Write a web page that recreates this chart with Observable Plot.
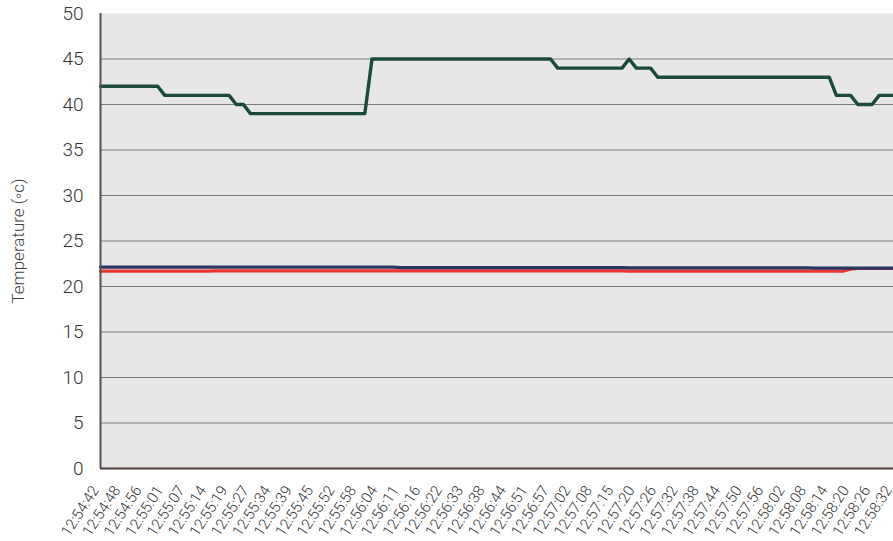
<!DOCTYPE html>
<html>
<head>
<meta charset="utf-8">
<script src="https://cdn.jsdelivr.net/npm/d3@7"></script>
<script src="https://cdn.jsdelivr.net/npm/@observablehq/plot@0.6"></script>
<style>
  html, body { margin: 0; padding: 0; background: #fff; overflow: hidden; }
</style>
</head>
<body>
<div id="chart"></div>
<script>
// Labelled sample times (every 3rd sample carries a label)
const tickLabels = [
  "12:54:42","12:54:48","12:54:56","12:55:01","12:55:07","12:55:14","12:55:19","12:55:27",
  "12:55:34","12:55:39","12:55:45","12:55:52","12:55:58","12:56:04","12:56:11","12:56:16",
  "12:56:22","12:56:33","12:56:38","12:56:44","12:56:51","12:56:57","12:57:02","12:57:08",
  "12:57:15","12:57:20","12:57:26","12:57:32","12:57:38","12:57:44","12:57:50","12:57:56",
  "12:58:02","12:58:08","12:58:14","12:58:20","12:58:26","12:58:32"
];
const samplesPerLabel = 3;

const yTicks = [0, 5, 10, 15, 20, 25, 30, 35, 40, 45, 50];

// Dark green series (one value per sample)
const greenSeries = [
  42,42,42,42,42,42,42,42,42,
  41,41,41,41,41,41,41,41,41,41,
  40,40,
  39,39,39,39,39,39,39,39,39,39,39,39,39,39,39,39,39,
  45,45,45,45,45,45,45,45,45,45,45,45,45,45,45,45,45,45,45,45,45,45,45,45,45,45,
  44,44,44,44,44,44,44,44,44,44,
  45,
  44,44,44,
  43,43,43,43,43,43,43,43,43,43,43,43,43,43,43,43,43,43,43,43,43,43,43,43,43,
  41,41,41,
  40,40,40,
  41,41,41
];

// Navy series
const navySeries = [
  22.12,22.12,22.12,22.12,22.12,22.12,22.12,22.12,22.12,22.12,
  22.12,22.12,22.12,22.12,22.12,22.12,22.12,22.12,22.12,22.12,
  22.12,22.12,22.12,22.12,22.12,22.12,22.12,22.12,22.12,22.12,
  22.12,22.12,22.12,22.12,22.12,22.12,22.12,22.12,22.12,22.12,
  22.12,22.12,
  22.08,22.08,22.08,22.08,22.08,22.08,22.08,22.08,22.08,22.08,
  22.08,22.08,22.08,22.08,22.08,22.08,22.08,22.08,22.08,22.08,
  22.08,22.08,22.08,22.08,22.08,22.08,22.08,22.08,22.08,22.08,
  22.08,22.08,
  22.05,22.05,22.05,22.05,22.05,22.05,22.05,22.05,22.05,22.05,
  22.05,22.05,22.05,22.05,22.05,22.05,22.05,22.05,22.05,22.05,
  22.05,22.05,22.05,22.05,22.05,22.05,
  22.02,22.02,22.02,22.02,22.02,22.02,22.02,22.02,22.02,22.02,22.02,22.02
];

// Red series
const redSeries = [
  21.68,21.68,21.68,21.68,21.68,21.68,21.68,21.68,21.68,21.68,
  21.68,21.68,21.68,21.68,21.68,21.68,
  21.72,21.72,21.72,21.72,21.72,21.72,21.72,21.72,21.72,21.72,
  21.72,21.72,21.72,21.72,21.72,21.72,21.72,21.72,21.72,21.72,
  21.72,21.72,21.72,21.72,21.72,21.72,
  21.72,21.72,21.72,21.72,21.72,21.72,21.72,21.72,21.72,21.72,
  21.72,21.72,21.72,21.72,21.72,21.72,21.72,21.72,21.72,21.72,
  21.72,21.72,21.72,21.72,21.72,21.72,21.72,21.72,21.72,21.72,
  21.72,21.72,
  21.7,21.7,21.7,21.7,21.7,21.7,21.7,21.7,21.7,21.7,
  21.7,21.7,21.7,21.7,21.7,21.7,21.7,21.7,21.7,21.7,
  21.7,21.7,21.7,21.7,21.7,21.7,
  21.7,21.7,21.7,21.7,21.7,21.9,21.98,21.98,21.98,21.98,21.98,21.98
];

const yLabel = "Temperature (◦c)";

const tickIdx = tickLabels.map((_, k) => k * samplesPerLabel);
const idx = (d, i) => i;
const val = d => d;

const chart = Plot.plot({
  width: 893,
  height: 541,
  marginLeft: 100,
  marginRight: 0,
  marginTop: 13,
  marginBottom: 73,
  x: { domain: [0, greenSeries.length - 1], range: [100, 893], axis: null },
  y: { domain: [0, 50], axis: null },
  style: { fontFamily: "Roboto, 'Liberation Sans', sans-serif", background: "#ffffff", overflow: "hidden" },
  marks: [
    Plot.frame({ fill: "#e7e7e7", stroke: null }),
    Plot.gridY(yTicks.filter(v => v > 0 && v < 50), { stroke: "#7c7c7c", strokeOpacity: 1, strokeWidth: 1 }),
    Plot.axisY(yTicks, {
      tickSize: 0, tickPadding: 17, fontSize: 19, fontWeight: 300, fill: "#333", label: null
    }),
    Plot.axisX(tickIdx, {
      tickFormat: d => tickLabels[Math.round(d / samplesPerLabel)],
      tickRotate: -57, tickSize: 0, tickPadding: 19, dx: -5, fontSize: 15, fontWeight: 300, fill: "#333", label: null
    }),
    Plot.text([yLabel], {
      frameAnchor: "left", textAnchor: "middle", dx: -82, rotate: -90, fontSize: 17, fontWeight: 300, fill: "#444"
    }),
    Plot.lineY(redSeries, { x: idx, y: val, stroke: "#e8352d", strokeWidth: 3.2 }),
    Plot.lineY(navySeries, { x: idx, y: val, stroke: "#2b3665", strokeWidth: 3.2 }),
    Plot.lineY(greenSeries, { x: idx, y: val, stroke: "#1b4a3a", strokeWidth: 3.4 }),
    Plot.ruleX([0], { stroke: "#5a514c", strokeWidth: 2 }),
    Plot.ruleY([0], { stroke: "#4a3d38", strokeWidth: 2 })
  ]
});
document.getElementById("chart").appendChild(chart);
</script>
</body>
</html>
